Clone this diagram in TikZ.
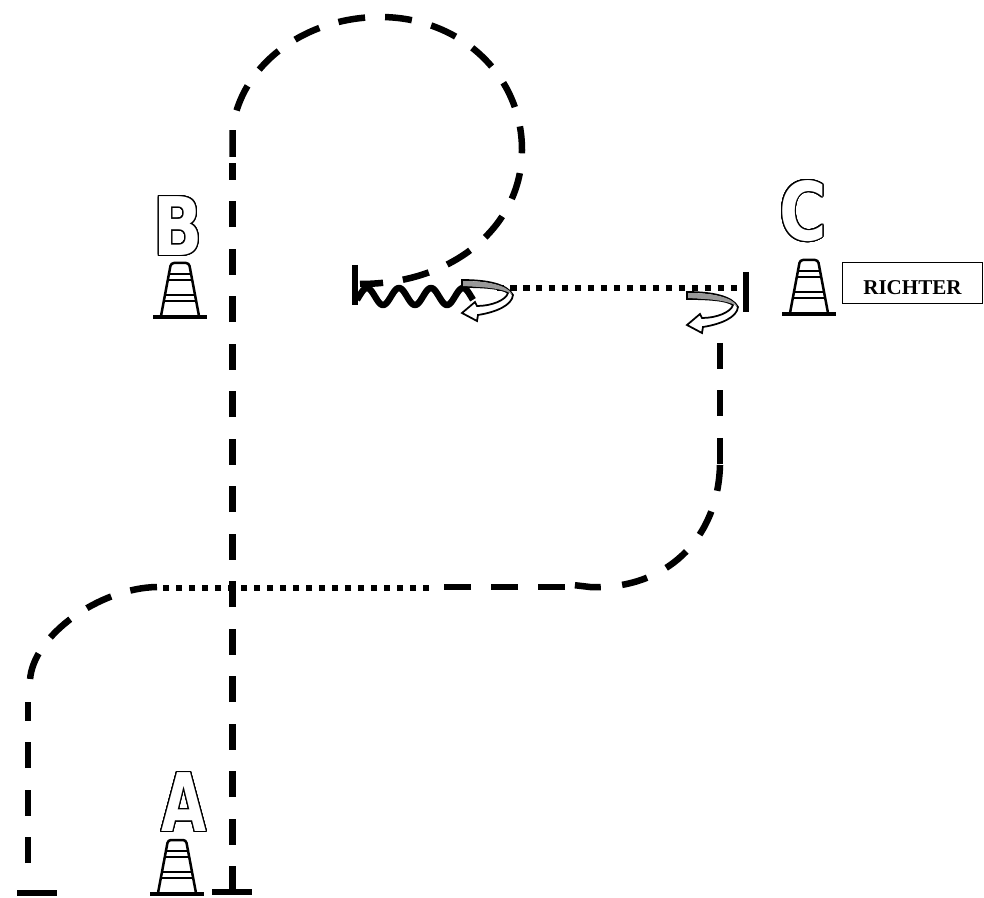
\documentclass[tikz,border=0pt]{standalone}
\usepackage{fontspec}
\setmainfont{Liberation Serif}
\newfontfamily\letterfont{DejaVu Sans}
\usepackage{contour}
\contourlength{0.7pt}
\contournumber{32}
\tikzstyle{route} = [line width=0.13cm, black, dash pattern=on 0.54cm off 0.4cm]
\tikzstyle{straight} = [line width=0.13cm, black, dash pattern=on 0.52cm off 0.43cm]
\tikzstyle{dots} = [line width=0.13cm, black, dash pattern=on 0.13cm off 0.13cm]
\tikzstyle{bar} = [line width=0.13cm, black]
\tikzstyle{wave} = [line width=0.13cm, black, line join=round]
\tikzstyle{letter} = [inner sep=0pt, xscale=0.8, font=\letterfont\fontsize{46}{46}\selectfont\bfseries]
\tikzstyle{label_box} = [draw=black, line width=0.6pt, minimum width=2.8cm, minimum height=0.82cm, inner sep=0pt, font=\fontsize{12}{12}\selectfont\bfseries]
\tikzset{
  cone/.pic={
    \draw[line width=0.08cm] (-27,0) -- (27,0);
    \draw[line width=0.05cm, rounded corners=0.06cm] (-19,-1) -- (-9,-54) -- (9,-54) -- (19,-1);
    \draw[line width=0.045cm] (-11,-43) -- (11,-43) (-12,-37) -- (12,-37);
    \draw[line width=0.045cm] (-14,-22) -- (14,-22) (-15,-16) -- (15,-16);
  },
  turn/.pic={
    \draw[line width=0.035cm, fill=white] (0,0) .. controls (25,0) and (45,4) .. (51,15)
      .. controls (50,25) and (35,32) .. (16,35) -- (15,41) -- (0,33) -- (13,22) -- (15,26)
      .. controls (30,26) and (44,20) .. (46,13) .. controls (40,8) and (20,7) .. (0,7) -- cycle;
    \fill[gray!80] (1,1) .. controls (25,1) and (45,5) .. (50,14) .. controls (40,8) and (20,7) .. (1,6) -- cycle;
  }
}
\begin{document}
\begin{tikzpicture}[x=0.02cm, y=-0.02cm]
    \useasboundingbox (0,0) rectangle (984,898);

    % Start bars
    \draw [bar] (212,892) -- (252,892);
    \draw [bar] (17,893) -- (57,893);

    % Route with the loop
    \draw [straight] (232.5,892) -- (232.5,163);
    \draw [route] (232.5,157) -- (232.5,130) .. controls (240,65) and (305,17) .. (380,17)
        .. controls (460,17) and (522,75) .. (522,150) .. controls (522,225) and (455,284) .. (360,284);

    % Route to the left
    \draw [straight] (720,343) -- (720,465);
    \draw [straight] (720,465) .. controls (718,540) and (665,590) .. (590,587) -- (573,585);
    \draw [route] (565,587) -- (443,587);
    \draw [dots] (429,588) -- (163,588);
    \draw [route] (157,587) .. controls (100,588) and (33,635) .. (30,680);
    \draw [straight] (28,863) -- (28,702);

    % Shuttle part
    \draw [bar] (355,265) -- (355,305);
    \draw [wave] plot[domain=357:473, samples=80, smooth] (\x, {296.5+8.5*cos(11.25*(\x-383))});
    \draw [dots] (497,288) -- (742,288);
    \draw [bar] (746,272) -- (746,312);
    \pic at (462,280) {turn};
    \pic at (687,292) {turn};

    % Cones
    \pic at (177,894) {cone};
    \pic at (180,317) {cone};
    \pic at (809,314) {cone};
    \node (letter_a) [letter, xscale=0.9] at (184,802.5) {\contour{black}{\textcolor{white}{A}}};
    \node (letter_b) [letter] at (178,226.5) {\contour{black}{\textcolor{white}{B}}};
    \node (letter_c) [letter] at (803,211.5) {\contour{black}{\textcolor{white}{C}}};

    \node (richter) [label_box] at (912.5,283) {\raisebox{-0.08cm}[8.5pt][0pt]{RICHTER}};
\end{tikzpicture}
\end{document}
